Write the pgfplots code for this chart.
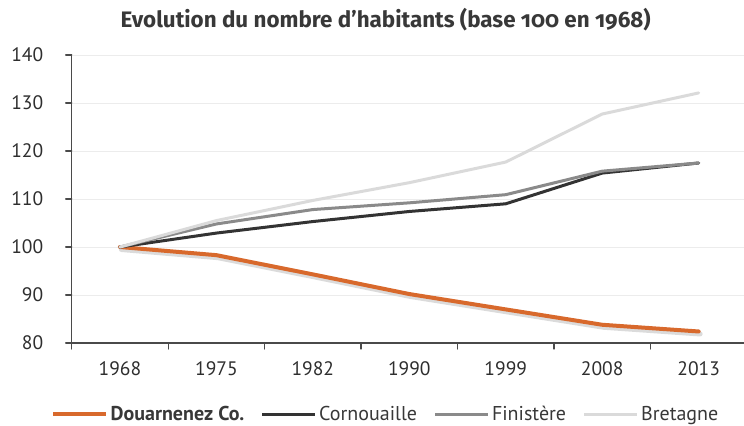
\documentclass[border=0pt]{standalone}
\usepackage{fontspec}
\usepackage{pgfplots}
\pgfplotsset{compat=1.18}
\setmainfont{PT Sans}
\newfontfamily\titlefont{Fira Sans}[Numbers=OldStyle, BoldFeatures={RawFeature=+onum}]
\definecolor{douarn}{HTML}{D8692C}
\definecolor{cornou}{HTML}{333333}
\definecolor{finist}{HTML}{8A8A8A}
\definecolor{bretag}{HTML}{DADADA}
\definecolor{gridc}{HTML}{ECECEC}
\definecolor{axisc}{HTML}{4A4A4A}

\begin{document}
\begin{tikzpicture}
\useasboundingbox (-71.7bp,-83bp) rectangle (672.3bp,343bp);
\begin{axis}[
  scale only axis,
  width=672.3bp, height=288bp,
  xmin=-0.5, xmax=6.47,
  ymin=80, ymax=140,
  xtick={0,...,6},
  xticklabels={1968,1975,1982,1990,1999,2008,2013},
  ytick={80,90,...,140},
  minor xtick={-0.5,0.5,...,5.5},
  minor ytick={80,90,...,140},
  major tick length=0pt,
  minor tick length=6bp,
  tick align=outside,
  axis x line*=bottom,
  axis y line*=left,
  x axis line style={draw=axisc, line width=1.6bp},
  y axis line style={draw=axisc, line width=1.4bp},
  minor tick style={draw=axisc, line width=1.2bp},
  ymajorgrids=true,
  grid style={gridc, line width=0.8bp},
  tick label style={font=\fontsize{19.5bp}{21bp}\selectfont, color=black!82},
  /pgf/number format/assume math mode=true,
  xticklabel style={yshift=-15bp},
  yticklabel style={xshift=-25bp},
  title={\titlefont\bfseries Evolution du nombre d’habitants (base 100 en 1968)},
  title style={at={(0.467,1)}, anchor=base, yshift=22bp,
    font=\fontsize{22.4bp}{24bp}\selectfont, color=black!78},
  legend columns=4,
  legend style={at={(0.4675,0)}, anchor=center, yshift=-71bp, draw=none, fill=none,
    font=\fontsize{20bp}{22bp}\selectfont, text=black!78,
    /tikz/every even column/.append style={column sep=14bp},
    /tikz/every node/.append style={inner xsep=2.5bp}},
  legend image code/.code={\draw[#1] (0bp,0bp) -- (53bp,0bp);},
  line join=round, line cap=round,
]
\addplot[draw=black!14, line width=5bp, xshift=1.5bp, yshift=-2.5bp, forget plot] coordinates {(0,100) (1,98.3) (2,94.3) (3,90.2) (4,87.0) (5,83.8) (6,82.4)};
\addplot[draw=douarn, line width=4bp] coordinates {(0,100) (1,98.3) (2,94.3) (3,90.2) (4,87.0) (5,83.8) (6,82.4)};
\addplot[draw=cornou, line width=3bp] coordinates {(0,100) (1,102.9) (2,105.3) (3,107.4) (4,109.0) (5,115.4) (6,117.5)};
\addplot[draw=finist, line width=3bp] coordinates {(0,100) (1,104.8) (2,107.8) (3,109.2) (4,110.9) (5,115.8) (6,117.5)};
\addplot[draw=bretag, line width=3bp] coordinates {(0,100) (1,105.5) (2,109.7) (3,113.4) (4,117.7) (5,127.7) (6,132.1)};
\legend{\textbf{Douarnenez Co.}, Cornouaille, Finistère, Bretagne}
\end{axis}
\end{tikzpicture}
\end{document}
